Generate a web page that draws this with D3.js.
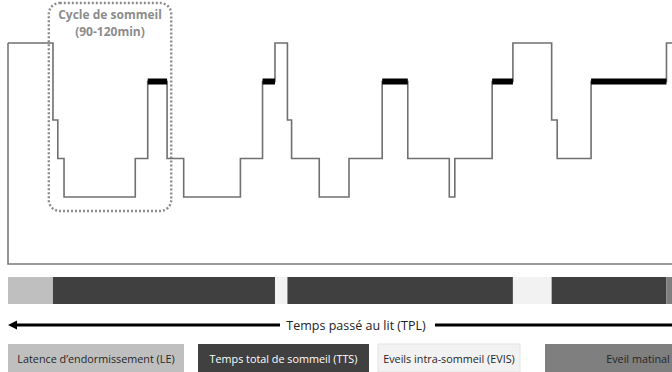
<!DOCTYPE html>
<html lang="fr">
<head>
  <meta charset="UTF-8">
  <title>Hypnogramme</title>
  <script src="https://d3js.org/d3.v7.min.js"></script>
  <style>
    body { margin: 0; background: white; }
    svg { display: block; }
    .cycleText { font-family: "Open Sans", sans-serif; font-weight: bold; font-size: 12px; fill: #8c8c8c; }
    .tplText { font-family: "Open Sans", sans-serif; font-size: 12.5px; fill: #222; }
    .legendText { font-family: "Open Sans", sans-serif; font-size: 10.8px; }
  </style>
</head>
<body>
<div id="chart"></div>
<script>
  // stades de sommeil (haut -> bas)
  const stages = ["Eveil", "SP", "N1", "N2", "N3"];

  // hypnogramme : debut de chaque palier (minutes) et stade
  const stepTimes = [0, 32.5, 36, 40.5, 92, 101, 115, 127, 168, 184, 193, 202, 205, 225, 246.5, 270.5, 289, 319, 323, 350, 365, 393, 397, 421.5, 476];
  const stepStages = ["Eveil", "N1", "N2", "N3", "N2", "SP", "N2", "N3", "N2", "SP", "Eveil", "N1", "N2", "N3", "N2", "SP", "N2", "N3", "N2", "SP", "Eveil", "N1", "N2", "SP", "Eveil"];
  const endTime = 480;

  // barre du bas : periodes
  const periodStarts = [0, 32.5, 193, 202, 365, 393, 476];
  const periodEnds = [32.5, 193, 202, 365, 393, 476, 500];
  const periodTypes = ["LE", "TTS", "EVIS", "TTS", "EVIS", "TTS", "EM"];

  // legende
  const legendKeys = ["LE", "TTS", "EVIS", "EM"];
  const legendLabels = ["Latence d’endormissement (LE)", "Temps total de sommeil (TTS)", "Eveils intra-sommeil (EVIS)", "Eveil matinal"];

  const cycleLabel = ["Cycle de sommeil", "(90-120min)"];
  const cycleStart = 29.5, cycleEnd = 118;
  const tplLabel = "Temps passé au lit (TPL)";

  const width = 672, height = 372;
  const colors = { LE: "#bfbfbf", TTS: "#404040", EVIS: "#f2f2f2", EM: "#7f7f7f" };
  const textColors = { LE: "#262626", TTS: "#ffffff", EVIS: "#262626", EM: "#262626" };

  const x = d3.scaleLinear().domain([0, endTime]).range([8, 672]);
  const y = d3.scalePoint().domain(stages).range([43, 197]);
  const frameBottom = 264;

  const svg = d3.select("#chart").append("svg")
    .attr("width", width)
    .attr("height", height);

  // cadre (axe gauche + bas)
  svg.append("path")
    .attr("d", `M${x(0)},${y("Eveil")}V${frameBottom}H${width}`)
    .attr("fill", "none")
    .attr("stroke", "#7a7a7a")
    .attr("stroke-width", 1.6);

  // cycle de sommeil (cadre pointille)
  svg.append("rect")
    .attr("x", x(cycleStart))
    .attr("y", 3)
    .attr("width", x(cycleEnd) - x(cycleStart))
    .attr("height", 208)
    .attr("rx", 11)
    .attr("fill", "none")
    .attr("stroke", "#8c8c8c")
    .attr("stroke-width", 2.4)
    .attr("stroke-dasharray", "2 2");

  svg.selectAll(".cycleText")
    .data(cycleLabel)
    .enter()
    .append("text")
    .attr("class", "cycleText")
    .attr("x", (x(cycleStart) + x(cycleEnd)) / 2)
    .attr("y", (d, i) => 19 + i * 17)
    .attr("text-anchor", "middle")
    .text(d => d);

  // hypnogramme
  const pts = stepTimes.map((t, i) => [t, stepStages[i]]);
  pts.push([endTime, stepStages[stepStages.length - 1]]);

  const line = d3.line()
    .x(d => x(d[0]))
    .y(d => y(d[1]))
    .curve(d3.curveStepAfter);

  svg.append("path")
    .datum(pts)
    .attr("d", line)
    .attr("fill", "none")
    .attr("stroke", "#707070")
    .attr("stroke-width", 1.6);

  // sommeil paradoxal : barres noires
  const remSegs = stepTimes.map((t, i) => ({ t0: t, t1: i + 1 < stepTimes.length ? stepTimes[i + 1] : endTime, s: stepStages[i] }))
    .filter(d => d.s === "SP");

  svg.selectAll(".rem")
    .data(remSegs)
    .enter()
    .append("rect")
    .attr("class", "rem")
    .attr("x", d => x(d.t0))
    .attr("y", y("SP") - 3)
    .attr("width", d => x(d.t1) - x(d.t0))
    .attr("height", 6)
    .attr("fill", "#000");

  // barre des periodes
  svg.selectAll(".period")
    .data(periodTypes)
    .enter()
    .append("rect")
    .attr("class", "period")
    .attr("x", (d, i) => x(periodStarts[i]))
    .attr("y", 277)
    .attr("width", (d, i) => x(periodEnds[i]) - x(periodStarts[i]))
    .attr("height", 27)
    .attr("fill", d => colors[d]);

  // fleche TPL
  const arrowY = 325;
  const tplX = 356;
  svg.append("path")
    .attr("d", `M${x(0) + 6},${arrowY}H${tplX - 76}M${tplX + 79},${arrowY}H${width}`)
    .attr("stroke", "#000")
    .attr("stroke-width", 3);
  svg.append("path")
    .attr("d", `M${x(0)},${arrowY}l9,-4.5v9z`)
    .attr("fill", "#000");
  svg.append("text")
    .attr("class", "tplText")
    .attr("x", tplX)
    .attr("y", arrowY + 4.5)
    .attr("text-anchor", "middle")
    .text(tplLabel);

  // legende
  const legendX0 = [8, 198, 378, 545];
  const legendX1 = [184, 369, 520, 730];
  const legend = svg.selectAll(".legend")
    .data(legendKeys)
    .enter()
    .append("g")
    .attr("class", "legend");

  legend.append("rect")
    .attr("x", (d, i) => legendX0[i])
    .attr("y", 344)
    .attr("width", (d, i) => legendX1[i] - legendX0[i])
    .attr("height", 28)
    .attr("fill", d => colors[d])
    .attr("stroke", d => d === "EVIS" ? "#e4e4e4" : "none");

  legend.append("text")
    .attr("class", "legendText")
    .attr("x", (d, i) => d === "EM" ? 638 : (legendX0[i] + legendX1[i]) / 2)
    .attr("y", 362.5)
    .attr("text-anchor", "middle")
    .attr("fill", d => textColors[d])
    .text((d, i) => legendLabels[i]);
</script>
</body>
</html>
